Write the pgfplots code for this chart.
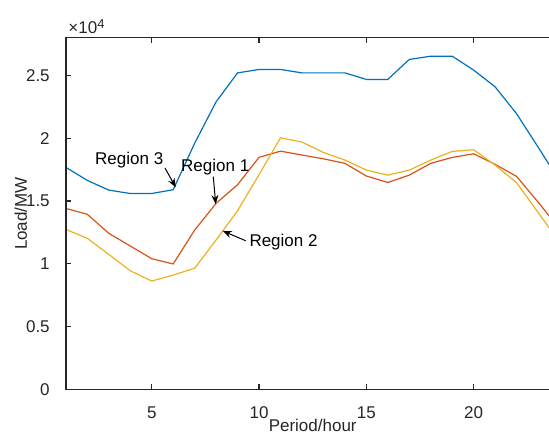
\documentclass[border=0pt]{standalone}
\usepackage{fontspec}
\setmainfont{Liberation Sans}
\usepackage{pgfplots}
\pgfplotsset{compat=1.18}
\usetikzlibrary{arrows.meta}
\definecolor{mblue}{rgb}{0,0.447,0.741}
\definecolor{morange}{rgb}{0.85,0.325,0.098}
\definecolor{myellow}{rgb}{0.929,0.694,0.125}
\definecolor{axgray}{rgb}{0.15,0.15,0.15}
\begin{document}
\begin{tikzpicture}[font=\fontsize{17bp}{20bp}\selectfont]
\begin{axis}[
  at={(0,0)}, anchor=south west,
  scale only axis, width=493.6bp, height=351.8bp,
  xmin=1, xmax=24, ymin=0, ymax=28000,
  axis line style={draw=axgray, line width=1.2bp},
  tick style={draw=axgray, line width=1.2bp},
  tick align=inside, major tick length=5bp,
  xtick pos=both, ytick pos=both,
  xtick={5,10,15,20}, xticklabels={5,10,15,20},
  ytick={0,5000,10000,15000,20000,25000},
  yticklabels={0,0.5,1,1.5,2,2.5},
  scaled y ticks=false,
  /pgf/number format/assume math mode=true,
  xticklabel style={inner sep=0pt, anchor=north, yshift=-17bp, text=axgray},
  yticklabel style={inner sep=0pt, anchor=east, xshift=-16bp, text=axgray},
  xlabel={Period/hour}, ylabel={Load/MW},
  xlabel style={at={(axis description cs:0.5,-0.118)}, anchor=base, inner sep=0pt, text=axgray},
  ylabel style={at={(axis description cs:-0.0790,0.5)}, anchor=base, inner sep=0pt, text=axgray},
  clip=true,
]
\addplot[color=mblue, line width=1.2bp] coordinates {
(1,17680) (2,16640) (3,15870) (4,15600) (5,15600) (6,15900) (7,19600) (8,22900)
(9,25200) (10,25470) (11,25470) (12,25200) (13,25200) (14,25200) (15,24680) (16,24680)
(17,26270) (18,26530) (19,26530) (20,25420) (21,24090) (22,21950) (23,19300) (24,16600)};
\addplot[color=morange, line width=1.2bp] coordinates {
(1,14410) (2,13940) (3,12430) (4,11420) (5,10410) (6,9990) (7,12690) (8,14820)
(9,16300) (10,18480) (11,18970) (12,18660) (13,18360) (14,18000) (15,16990) (16,16480)
(17,17060) (18,18000) (19,18470) (20,18760) (21,17920) (22,16960) (23,14920) (24,12800)};
\addplot[color=myellow, line width=1.2bp] coordinates {
(1,12740) (2,12030) (3,10750) (4,9450) (5,8630) (6,9110) (7,9650) (8,11900)
(9,14230) (10,17100) (11,20030) (12,19690) (13,18870) (14,18260) (15,17460) (16,17060)
(17,17460) (18,18260) (19,18950) (20,19080) (21,17860) (22,16460) (23,14100) (24,11700)};
\node[anchor=base west, inner sep=0pt] at (axis cs:2.356,17920) {Region 3};
\node[anchor=base west, inner sep=0pt] at (axis cs:6.364,17340) {Region 1};
\node[anchor=base west, inner sep=0pt] at (axis cs:9.546,11380) {Region 2};
\draw[-{Stealth[length=9bp,width=7bp]}, line width=1bp] (axis cs:5.618,17630) -- (axis cs:6.117,16090);
\draw[-{Stealth[length=9bp,width=7bp]}, line width=1bp] (axis cs:7.869,16940) -- (axis cs:7.98,14760);
\draw[-{Stealth[length=9bp,width=7bp]}, line width=1bp] (axis cs:9.378,11840) -- (axis cs:8.307,12620);
\end{axis}
% frame pieces as fills
\fill[axgray] (-0.6bp,351.2bp) rectangle (493.6bp,352.4bp);
\fill[axgray] (-0.6bp,-0.6bp) rectangle (493.6bp,0.6bp);
\fill[axgray] (-0.6bp,-0.6bp) rectangle (0.6bp,352.4bp);
\fill[axgray] (85.24bp,0bp) rectangle (86.44bp,5bp);
\fill[axgray] (192.54bp,0bp) rectangle (193.74bp,5bp);
\fill[axgray] (299.84bp,0bp) rectangle (301.04bp,5bp);
\fill[axgray] (407.14bp,0bp) rectangle (408.34bp,5bp);
\fill[axgray] (85.24bp,346.8bp) rectangle (86.44bp,351.8bp);
\fill[axgray] (192.54bp,346.8bp) rectangle (193.74bp,351.8bp);
\fill[axgray] (299.84bp,346.8bp) rectangle (301.04bp,351.8bp);
\fill[axgray] (407.14bp,346.8bp) rectangle (408.34bp,351.8bp);
\fill[axgray] (0bp,62.22bp) rectangle (5bp,63.42bp);
\fill[axgray] (0bp,125.04bp) rectangle (5bp,126.24bp);
\fill[axgray] (0bp,187.86bp) rectangle (5bp,189.06bp);
\fill[axgray] (0bp,250.68bp) rectangle (5bp,251.88bp);
\fill[axgray] (0bp,313.5bp) rectangle (5bp,314.7bp);
\node[anchor=base west, inner sep=0pt, text=axgray] at (2.4bp,356.2bp) {×10\raisebox{5bp}{\fontsize{13bp}{13bp}\selectfont 4}};
\pgfresetboundingbox
\path[use as bounding box] (-65.9bp,-51.5bp) rectangle (483.1bp,389.5bp);
\end{tikzpicture}
\end{document}
